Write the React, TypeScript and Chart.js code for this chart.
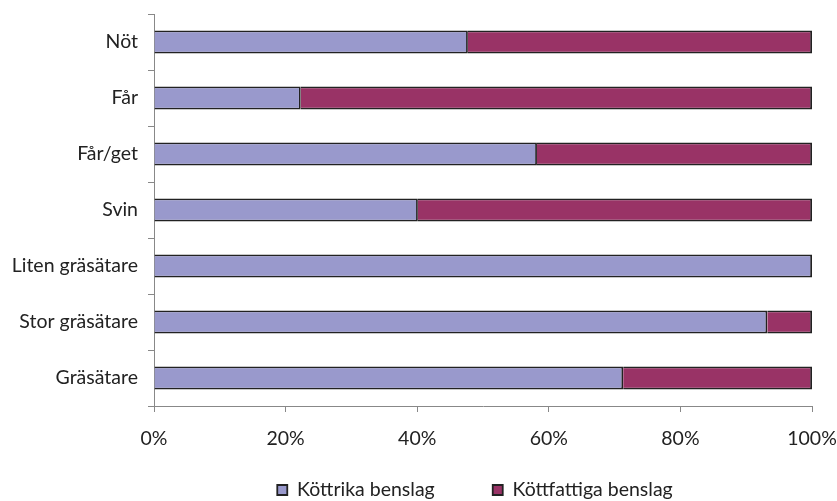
import React, { useEffect, useRef } from "react";
import { Chart, registerables } from "chart.js";

Chart.register(...registerables);

const categories = ["Nöt", "Får", "Får/get", "Svin", "Liten gräsätare", "Stor gräsätare", "Gräsätare"];
const kottrika = [47.7, 22.3, 58.2, 40.1, 100, 93.2, 71.3];
const kottfattiga = [52.3, 77.7, 41.8, 59.9, 0, 6.8, 28.7];
const seriesNames = ["Köttrika benslag", "Köttfattiga benslag"];
const xTickStep = 20;

const FONT = "Lato, 'Open Sans', sans-serif";
const FS = 19.5;

const legendPlace = {
  id: "legendPlace",
  afterLayout(chart: any) {
    const lg = chart.legend;
    if (!lg) return;
    lg.top = 492 - 60 - FS / 2;
    lg.bottom = 501;
    lg.height = lg.bottom - lg.top;
    lg.left -= 8;
    lg.right -= 8;
  },
};

export default function App() {
  const ref = useRef<HTMLCanvasElement | null>(null);
  useEffect(() => {
    if (!ref.current) return;
    const chart = new Chart(ref.current, {
      type: "bar",
      data: {
        labels: categories,
        datasets: [
          {
            label: seriesNames[0],
            data: kottrika,
            backgroundColor: "#9999CC",
            borderColor: "#222222",
            borderWidth: 1.8,
            barPercentage: 0.41,
            categoryPercentage: 1,
          },
          {
            label: seriesNames[1],
            data: kottfattiga,
            backgroundColor: "#993366",
            borderColor: "#222222",
            borderWidth: 1.8,
            barPercentage: 0.41,
            categoryPercentage: 1,
          },
        ],
      },
      plugins: [legendPlace],
      options: {
        indexAxis: "y",
        responsive: false,
        animation: false,
        layout: { padding: { top: 14, right: 25, left: 0, bottom: 0 } },
        scales: {
          x: {
            stacked: true,
            min: 0,
            max: 100,
            afterFit: (scale: any) => {
              scale.height = 50;
              scale.paddingLeft = 0;
              scale.paddingRight = 0;
            },
            ticks: {
              stepSize: xTickStep,
              callback: (v: any) => v + "%",
              padding: 15,
              color: "#222",
              font: { family: FONT, size: FS },
              maxRotation: 0,
              autoSkip: false,
            },
            grid: { display: true, drawOnChartArea: false, drawTicks: true, tickLength: 6, color: "#888" },
            border: { display: true, color: "#888", width: 1 },
          },
          y: {
            stacked: true,
            afterFit: (scale: any) => {
              scale.width = 154;
              scale.paddingTop = 0;
              scale.paddingBottom = 0;
            },
            ticks: {
              padding: 10,
              color: "#222",
              font: { family: FONT, size: FS },
              autoSkip: false,
            },
            grid: { display: true, drawOnChartArea: false, drawTicks: true, tickLength: 6, color: "#888", offset: true },
            border: { display: true, color: "#888", width: 1 },
          },
        },
        plugins: {
          legend: {
            position: "bottom",
            fullSize: false,
            maxHeight: 45,
            labels: {
              boxWidth: 10,
              boxHeight: 10,
              padding: 58,
              color: "#222",
              font: { family: FONT, size: FS },
            },
          },
          tooltip: { enabled: false },
        },
      },
    });
    return () => chart.destroy();
  }, []);
  return (
    <div style={{ position: "fixed", left: 0, top: 0, width: 837, height: 501, background: "#fff" }}>
      <canvas ref={ref} width={837} height={501} style={{ display: "block" }} />
    </div>
  );
}
